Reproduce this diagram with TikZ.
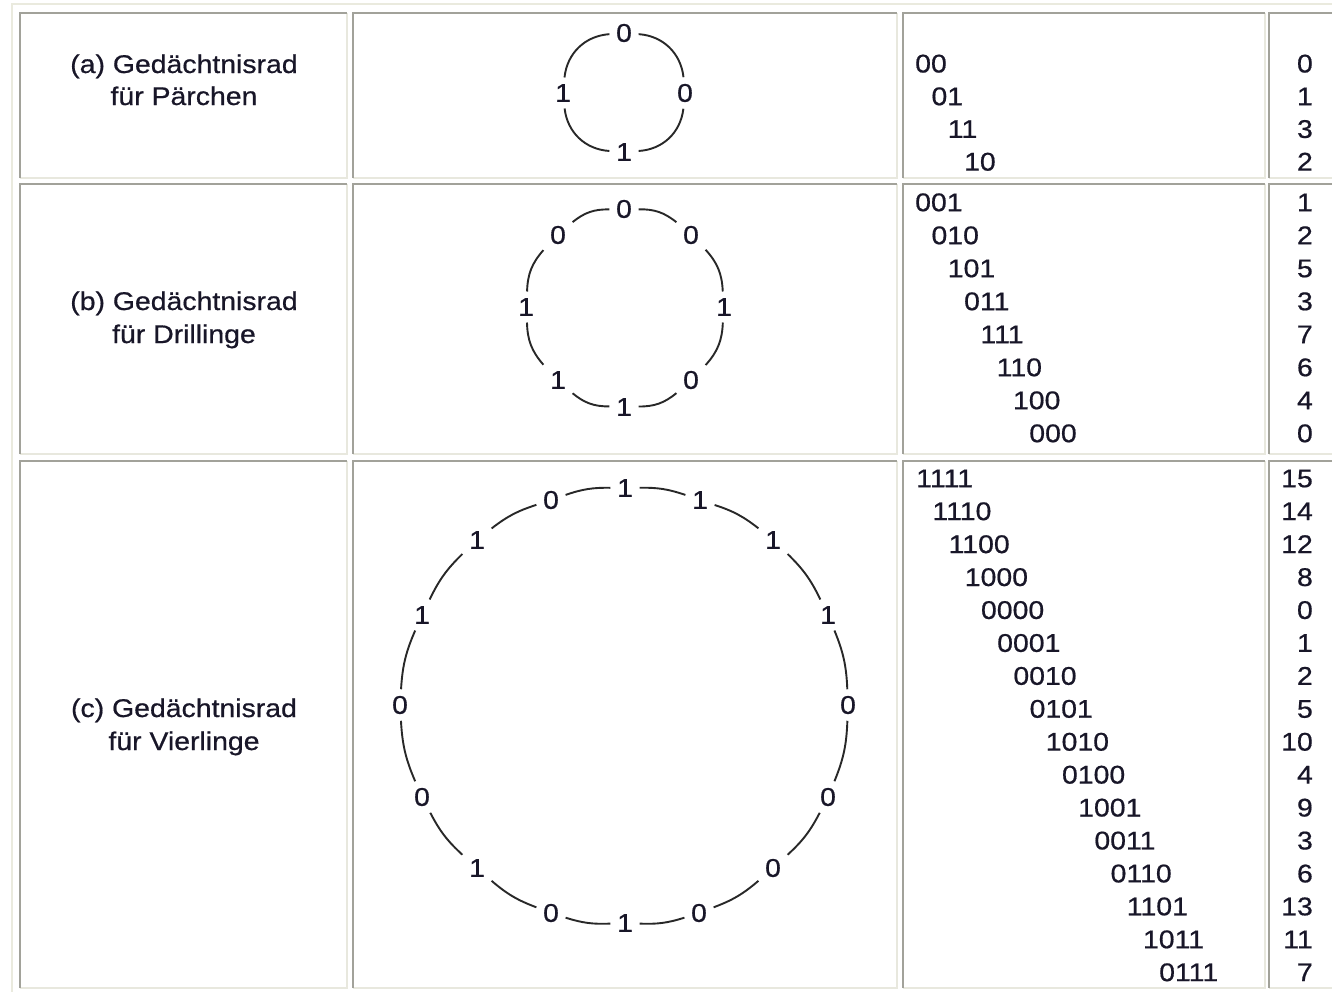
\documentclass[tikz,border=0pt]{standalone}
\usepackage{fontspec}
\setmainfont[FakeStretch=1.11,FakeBold=0.6]{Liberation Sans}
\usepackage{tikz}
\definecolor{RandDunkel}{RGB}{162,162,154}
\definecolor{RandHell}{RGB}{232,232,222}
\definecolor{Rahmen}{RGB}{234,234,222}
\definecolor{Strich}{RGB}{40,40,40}
\definecolor{Schrift}{RGB}{24,22,40}

\begin{document}
\begin{tikzpicture}[x=1pt,y=-1pt,
  txt/.style={font=\fontsize{25.6}{33}\selectfont,text=Schrift,inner sep=0pt,anchor=base},
  bit/.style={font=\fontsize{25.6}{33}\selectfont,text=Schrift,inner sep=6.5pt},
  rad/.style={draw=Strich,line width=1.9pt}]
  \useasboundingbox (0,0) rectangle (1332,991);
  \clip (0,0) rectangle (1332,991);
  \fill[white] (0,0) rectangle (1332,991);
  \draw[Rahmen,line width=2pt] (12,1000) -- (12,4) -- (1340,4);
  % Zellen
  \foreach \xa/\xb in {20/347,353/897,903/1265,1269/1345}
    \foreach \ya/\yb in {13/178,184/454,461/988} {
      \draw[RandHell,line width=2pt] (\xa,\yb) -- (\xb,\yb) -- (\xb,\ya);
      \draw[RandDunkel,line width=2pt] (\xa,\yb) -- (\xa,\ya) -- (\xb,\ya);
    }

  % Spalte 1
  \node[txt] (ta1) at (184,73) {(a) Gedächtnisrad};
  \node[txt] (ta2) at (184,105) {für Pärchen};
  \node[txt] (tb1) at (184,310) {(b) Gedächtnisrad};
  \node[txt] (tb2) at (184,343) {für Drillinge};
  \node[txt] (tc1) at (184,717) {(c) Gedächtnisrad};
  \node[txt] (tc2) at (184,750) {für Vierlinge};

  % Gedaechtnisraeder
  \foreach \x/\y/\b [count=\i] in {624/33/0,685/93/0,624/152/1,563/93/1}
    \node[bit] (a\i) at (\x,\y) {\b};
  \foreach \i in {1,...,4} {
    \pgfmathtruncatemacro\j{mod(\i,4)+1}
    \draw[rad] (a\i) to[bend left=40] (a\j);
  }
  \foreach \x/\y/\b [count=\i] in {624/209/0,691/235/0,724/307/1,691/380/0,
      624/407/1,558/380/1,526/307/1,558/235/0}
    \node[bit] (b\i) at (\x,\y) {\b};
  \foreach \i in {1,...,8} {
    \pgfmathtruncatemacro\j{mod(\i,8)+1}
    \draw[rad] (b\i) to[bend left=20] (b\j);
  }
  \foreach \x/\y/\b [count=\i] in {625/488/1,700/500/1,773/540/1,828/615/1,
      848/705/0,828/797/0,773/868/0,699/913/0,625/923/1,551/913/0,
      477/868/1,422/797/0,400/705/0,422/615/1,477/540/1,551/500/0}
    \node[bit] (c\i) at (\x,\y) {\b};
  \foreach \i in {1,...,16} {
    \pgfmathtruncatemacro\j{mod(\i,16)+1}
    \draw[rad] (c\i) to[bend left=10] (c\j);
  }

  % Spalte 3 und 4
  \foreach \s/\n [count=\i from 0] in {00/0,01/1,11/3,10/2} {
    \node[txt,anchor=base west] (pa\i) at ({915+16.3*\i},{72.5+32.7*\i}) {\s};
    \node[txt,anchor=base east] (za\i) at (1313,{72.5+32.7*\i}) {\n};
  }
  \foreach \s/\n [count=\i from 0] in {001/1,010/2,101/5,011/3,111/7,110/6,100/4,000/0} {
    \node[txt,anchor=base west] (pb\i) at ({915+16.3*\i},{211.2+33*\i}) {\s};
    \node[txt,anchor=base east] (zb\i) at (1313,{211.2+33*\i}) {\n};
  }
  \foreach \s/\n [count=\i from 0] in {1111/15,1110/14,1100/12,1000/8,0000/0,0001/1,
      0010/2,0101/5,1010/10,0100/4,1001/9,0011/3,0110/6,1101/13,1011/11,0111/7} {
    \node[txt,anchor=base west] (pc\i) at ({916+16.2*\i},{487.2+32.93*\i}) {\s};
    \node[txt,anchor=base east] (zc\i) at (1313,{487.2+32.93*\i}) {\n};
  }
\end{tikzpicture}
\end{document}
